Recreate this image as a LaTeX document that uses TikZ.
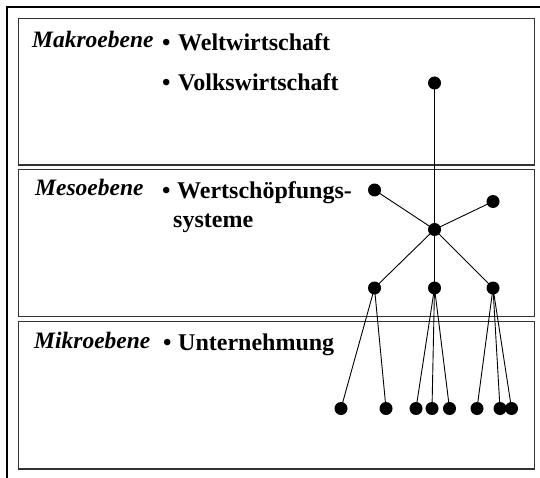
\documentclass[tikz,border=0pt]{standalone}
\usepackage{fontspec}
\setmainfont{Liberation Serif}
\begin{document}
\begin{tikzpicture}[x=1pt,y=-1pt,
  levelbox/.style={draw=black!80,line width=1.2pt},
  lbl/.style={anchor=base west,inner sep=0pt,font=\fontsize{23.5}{28}\selectfont\bfseries\itshape},
  itm/.style={anchor=base west,inner sep=0pt,font=\fontsize{24}{28}\selectfont\bfseries},
  dot/.style={circle,fill=black,inner sep=0pt,minimum size=13pt},
  edge/.style={draw=black,line width=0.9pt}]
\useasboundingbox (0,0) rectangle (540,478);
% outer frame (partly visible)
\draw[line width=2.2pt] (540,6.7) -- (6.7,6.7) -- (6.7,478);
% level boxes
\draw[levelbox] (18.3,18.3) rectangle (534.5,165);
\draw[levelbox] (18.3,169.5) rectangle (534.5,316.5);
\draw[levelbox] (18.3,321.5) rectangle (534.5,469);
% texts
\node[lbl] (makro) at (32,47.5) {Makroebene};
\node[itm] (b1) at (162,51) {•};
\node[itm] (welt) at (178,51) {Weltwirtschaft};
\node[itm] (b2) at (162,91) {•};
\node[itm] (volk) at (178,91) {Volkswirtschaft};
\node[lbl] (meso) at (35,195.5) {Mesoebene};
\node[itm] (b3) at (162,198.5) {•};
\node[itm] (wert) at (177,198.5) {Wertschöpfungs-};
\node[itm] (syst) at (173,227.5) {systeme};
\node[lbl] (mikro) at (34,348.5) {Mikroebene};
\node[itm] (b4) at (163,350) {•};
\node[itm] (unt) at (178,350) {Unternehmung};
% tree nodes
\node[dot] (top) at (434.5,83) {};
\node[dot] (ml) at (374.5,190) {};
\node[dot] (mr) at (493,201.5) {};
\node[dot] (mc) at (434.5,229.5) {};
\node[dot] (r1) at (374.5,288) {};
\node[dot] (r2) at (434.5,288) {};
\node[dot] (r3) at (493,288) {};
\node[dot] (l1) at (341,408.5) {};
\node[dot] (l2) at (386,408.5) {};
\node[dot] (l3) at (416,408.5) {};
\node[dot] (l4) at (432,408.5) {};
\node[dot] (l5) at (449.5,408.5) {};
\node[dot] (l6) at (477,408.5) {};
\node[dot] (l7) at (500,408.5) {};
\node[dot] (l8) at (511.5,408.5) {};
% connectors
\draw[edge] (top.center) -- (mc.center) -- (r2.center);
\draw[edge] (mc.center) -- (ml.center);
\draw[edge] (mc.center) -- (mr.center);
\draw[edge] (mc.center) -- (r1.center);
\draw[edge] (mc.center) -- (r3.center);
\draw[edge] (r1.center) -- (l1.center);
\draw[edge] (r1.center) -- (l2.center);
\draw[edge] (r2.center) -- (l3.center);
\draw[edge] (r2.center) -- (l4.center);
\draw[edge] (r2.center) -- (l5.center);
\draw[edge] (r3.center) -- (l6.center);
\draw[edge] (r3.center) -- (l7.center);
\draw[edge] (r3.center) -- (l8.center);
\end{tikzpicture}
\end{document}
